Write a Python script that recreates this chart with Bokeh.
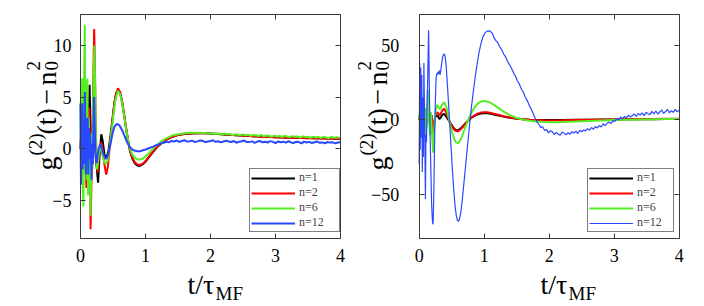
import numpy as np
from bokeh.plotting import figure
from bokeh.models import Label, Legend, LegendItem, LinearAxis, FixedTicker, Range1d
from bokeh.layouts import row
from bokeh.embed import file_html
from bokeh.resources import INLINE

SERIES = ["n=1", "n=2", "n=6", "n=12"]
COLORS = ["#000000", "#ff0000", "#55ee22", "#2a48ff"]
X_TICKS = [0, 1, 2, 3, 4]
LEFT_Y_TICKS = [-5, 0, 5, 10]
RIGHT_Y_TICKS = [-50, 0, 50]

# ---------------- left panel ----------------
L_T1 = [0.00, 0.015, 0.03, 0.045, 0.06, 0.075, 0.09, 0.105, 0.12, 0.14, 0.16, 0.18, 0.20, 0.22, 0.245, 0.27,
        0.295, 0.32, 0.34, 0.37, 0.40, 0.43, 0.46, 0.49, 0.52, 0.55, 0.58, 0.61, 0.64, 0.67, 0.70, 0.73, 0.76,
        0.80, 0.84, 0.88, 0.92, 0.96, 1.00, 1.05, 1.10, 1.15, 1.20, 1.30, 1.40, 1.50, 1.60, 1.70, 1.80, 1.90,
        2.00, 2.20, 2.40, 2.60, 2.80, 3.00, 3.20, 3.40, 3.60, 3.80, 4.00]
L_N1 = [0.0, 2.0, -1.5, 1.0, -1.8, 2.5, -0.5, 3.0, 1.0, 6.2, 0.0, -1.0, 1.5, 0.5, -1.5, -3.3, -0.5, 1.4, 0.8,
        -0.6, -0.9, -0.2, 1.2, 2.8, 4.4, 5.4, 5.7, 5.4, 4.5, 3.3, 2.0, 0.8, -0.2, -1.0, -1.45, -1.65, -1.65,
        -1.5, -1.25, -0.85, -0.45, -0.05, 0.3, 0.8, 1.12, 1.32, 1.43, 1.48, 1.5, 1.49, 1.46, 1.38, 1.3, 1.22,
        1.15, 1.1, 1.06, 1.03, 1.0, 0.98, 0.96]

L_T2 = [0.00, 0.015, 0.03, 0.045, 0.06, 0.075, 0.09, 0.105, 0.12, 0.135, 0.155, 0.175, 0.195, 0.21, 0.22,
        0.235, 0.25, 0.265, 0.28, 0.30, 0.32, 0.34, 0.37, 0.395, 0.42, 0.45, 0.48, 0.51, 0.54, 0.575, 0.61,
        0.64, 0.67, 0.70, 0.73, 0.76, 0.80, 0.84, 0.88, 0.92, 0.96, 1.00, 1.05, 1.10, 1.15, 1.20, 1.30, 1.40,
        1.50, 1.60, 1.70, 1.80, 1.90, 2.00, 2.20, 2.40, 2.60, 2.80, 3.00, 3.20, 3.40, 3.60, 3.80, 4.00]
L_N2 = [0.0, 2.5, -2.0, 3.0, -1.0, 1.5, -3.8, 2.0, 0.5, 4.0, -7.8, -1.0, 6.0, 11.6, 9.0, 2.0, -1.5, -2.3,
        -1.2, 0.2, 0.6, 0.0, -1.6, -2.5, -1.8, 0.2, 2.0, 3.8, 5.1, 5.85, 5.5, 4.6, 3.4, 2.1, 0.9, -0.1, -0.9,
        -1.35, -1.55, -1.55, -1.45, -1.2, -0.8, -0.4, 0.0, 0.3, 0.8, 1.12, 1.32, 1.44, 1.5, 1.52, 1.5, 1.47,
        1.39, 1.3, 1.22, 1.15, 1.1, 1.06, 1.03, 1.0, 0.98, 0.96]

L_T6 = [0.000, 0.008, 0.016, 0.026, 0.036, 0.046, 0.056, 0.066, 0.076, 0.086, 0.096, 0.106, 0.116, 0.128,
        0.14, 0.155, 0.17, 0.185, 0.20, 0.215, 0.225, 0.24, 0.255, 0.27, 0.29, 0.31, 0.33, 0.36, 0.39, 0.42,
        0.45, 0.48, 0.51, 0.54, 0.575, 0.61, 0.64, 0.67, 0.70, 0.73, 0.76, 0.80, 0.84, 0.88, 0.92, 0.96, 1.00,
        1.05, 1.10, 1.15, 1.20, 1.30, 1.40, 1.50, 1.60, 1.70, 1.80, 1.90]
L_N6 = [4.5, -3.0, 3.0, 6.8, -4.0, -5.6, 6.8, 12.0, -2.5, 6.5, -3.0, 6.8, -4.5, 3.0, -1.0, -6.5, 1.5, -2.0,
        7.0, 10.0, 6.0, 0.0, -2.0, -1.2, -0.2, 0.1, -0.4, -1.2, -1.5, -1.1, 0.2, 1.8, 3.5, 4.8, 5.6, 5.3, 4.4,
        3.2, 2.0, 0.9, 0.0, -0.6, -0.9, -1.05, -1.05, -0.95, -0.75, -0.45, -0.1, 0.2, 0.5, 0.95, 1.25, 1.4,
        1.5, 1.55, 1.55, 1.52]
# noisy tail of n=6, sampled evenly from t=1.94 to t=3.98
L_N6_TAIL = [1.50, 1.44, 1.52, 1.41, 1.48, 1.45, 1.36, 1.47, 1.39, 1.42, 1.31, 1.40, 1.36, 1.29, 1.39, 1.30,
             1.35, 1.24, 1.33, 1.30, 1.22, 1.33, 1.20, 1.28, 1.25, 1.16, 1.27, 1.19, 1.23, 1.13, 1.24, 1.18,
             1.12, 1.22, 1.15, 1.19, 1.08, 1.20, 1.12, 1.16, 1.06, 1.17, 1.10, 1.14, 1.05, 1.15, 1.09, 1.04,
             1.14, 1.06, 1.11, 1.05]

L_T12 = [0.000, 0.007, 0.014, 0.021, 0.027, 0.034, 0.042, 0.05, 0.058, 0.067, 0.075, 0.084, 0.093, 0.102,
         0.111, 0.12, 0.13, 0.14, 0.15, 0.16, 0.17, 0.18, 0.19, 0.20, 0.21, 0.22, 0.235, 0.25, 0.265, 0.28,
         0.30, 0.32, 0.34, 0.37, 0.40, 0.43, 0.46, 0.49, 0.52, 0.56, 0.60, 0.64, 0.68, 0.72, 0.76, 0.80, 0.84,
         0.88, 0.92, 0.96]
L_N12 = [4.3, -3.5, 1.0, -1.0, 4.4, -2.0, 2.5, -1.5, 1.0, 5.5, 0.0, -2.5, 3.0, -1.0, 3.0, -2.5, 2.0, -1.0,
         1.5, -0.5, -3.0, 0.5, -1.5, 2.5, 5.0, 2.0, -1.0, -1.4, -0.6, 0.0, 0.4, 0.2, -0.3, -0.8, -1.0, -0.5,
         0.4, 1.4, 2.1, 2.4, 2.25, 1.8, 1.2, 0.6, 0.15, -0.1, -0.2, -0.25, -0.25, -0.15]
# noisy tail of n=12, sampled evenly from t=1.0 to t=4.0
L_N12_TAIL = [-0.08, 0.02, 0.12, 0.20, 0.33, 0.41, 0.52, 0.57, 0.66, 0.62,
              0.75, 0.70, 0.79, 0.66, 0.74, 0.82, 0.69, 0.73, 0.78, 0.64,
              0.71, 0.80, 0.76, 0.63, 0.70, 0.74, 0.81, 0.67, 0.72, 0.61,
              0.69, 0.77, 0.70, 0.65, 0.74, 0.58, 0.68, 0.72, 0.79, 0.64,
              0.66, 0.71, 0.57, 0.69, 0.75, 0.62, 0.67, 0.60, 0.73, 0.66,
              0.54, 0.70, 0.63, 0.68, 0.59, 0.72, 0.61, 0.56, 0.67, 0.64,
              0.52, 0.69, 0.60, 0.66, 0.55, 0.63, 0.70, 0.57, 0.61, 0.53,
              0.65, 0.59, 0.62, 0.51, 0.60, 0.62]

# ---------------- right panel ----------------
R_T12_SMOOTH = [0.00, 0.02, 0.04, 0.06, 0.08, 0.10, 0.12, 0.135, 0.15, 0.17, 0.19, 0.205, 0.215, 0.23, 0.25,
                0.27, 0.29, 0.31, 0.33, 0.36, 0.385, 0.41, 0.44, 0.47, 0.50, 0.53, 0.56, 0.60, 0.64, 0.68,
                0.72, 0.76, 0.80, 0.85, 0.90, 0.95, 1.00, 1.05, 1.10, 1.15, 1.20, 1.30, 1.40, 1.50, 1.60,
                1.70, 1.80, 1.90, 2.00, 2.20, 2.40, 2.60, 2.80, 3.00, 3.20, 3.40, 3.60, 3.80, 4.00]
R_N1 = [0, 4, -4, 6, -3, 5, -2, 8, 2, -3, 3, -4, -8, -2, 2, 3, 2.5, 0.5, 1.5, 3.5, 4.0, 2.5, 0.5, -1.5, -3.5,
        -5.5, -6.8, -7.0, -5.8, -4.0, -2.0, -0.3, 1.2, 2.6, 3.6, 4.2, 4.5, 4.4, 4.1, 3.6, 3.1, 2.1, 1.3, 0.7,
        0.3, 0.05, -0.1, -0.2, -0.2, -0.15, -0.05, 0.05, 0.15, 0.25, 0.3, 0.35, 0.4, 0.45, 0.5]
R_N2 = [0, 6, -6, 8, -5, 6, -3, 10, 3, -4, 3, -5, -10, -3, 3, 5, 4.5, 3, 4, 6.5, 7.4, 5.5, 2, -1.5, -4, -6.2,
        -7.5, -7.6, -6.3, -4.4, -2.3, -0.4, 1.3, 3.0, 4.1, 4.8, 5.1, 5.0, 4.6, 4.1, 3.5, 2.4, 1.5, 0.8, 0.35,
        0.05, -0.2, -0.35, -0.4, -0.35, -0.2, -0.05, 0.1, 0.25, 0.35, 0.45, 0.55, 0.65, 0.7]

R_T6 = [0.00, 0.015, 0.03, 0.045, 0.06, 0.075, 0.09, 0.105, 0.12, 0.135, 0.15, 0.165, 0.18, 0.195, 0.205,
        0.215, 0.23, 0.245, 0.26, 0.28, 0.30, 0.32, 0.35, 0.385, 0.42, 0.45, 0.48, 0.51, 0.54, 0.57, 0.60,
        0.63, 0.66, 0.70, 0.74, 0.78, 0.82, 0.86, 0.90, 0.95, 1.00, 1.05, 1.10, 1.15, 1.20, 1.30, 1.40, 1.50,
        1.60, 1.70, 1.80, 1.90, 2.00, 2.10, 2.20, 2.40, 2.60, 2.80, 3.00, 3.20, 3.40, 3.60, 3.80, 4.00]
R_N6 = [0, 8, -10, 12, -8, 10, -12, 8, -5, 20, 6, -10, 5, -8, -15, -22, -8, 3, 8, 10, 8, 7, 10, 11.8, 8, 2,
        -4, -9, -13, -15.3, -15.6, -14, -11, -6, -1.5, 2.5, 6, 8.8, 10.8, 12.2, 12.5, 12.2, 11.3, 10, 8.5,
        5.5, 3.0, 1.2, 0.1, -0.6, -1.1, -1.4, -1.6, -1.6, -1.5, -1.2, -0.8, -0.4, -0.1, 0.1, 0.25, 0.35,
        0.45, 0.5]

R_T12 = [0.000, 0.008, 0.016, 0.024, 0.032, 0.040, 0.048, 0.056, 0.064, 0.072, 0.080, 0.088, 0.096, 0.104,
         0.112, 0.12, 0.13, 0.138, 0.145, 0.152, 0.16, 0.17, 0.18, 0.19, 0.20, 0.208, 0.215, 0.222, 0.23,
         0.24, 0.25, 0.26, 0.27, 0.28, 0.29, 0.30, 0.31, 0.32, 0.335, 0.35, 0.365, 0.385, 0.40, 0.415, 0.43,
         0.45, 0.47, 0.49, 0.51, 0.53, 0.55, 0.57, 0.59, 0.605, 0.62, 0.64, 0.66, 0.68, 0.70, 0.72, 0.74,
         0.76, 0.78, 0.80, 0.83, 0.86, 0.89, 0.92, 0.95, 0.98, 1.01, 1.04, 1.07, 1.09, 1.11, 1.13]
R_N12 = [-30, 38, -20, 35, -12, 30, -35, 15, -25, 38, 10, -20, -53, -10, -15, 10, 25, 45, 60, 35, 10, -15,
         -35, -55, -65, -70, -68, -55, -35, -5, 15, 28, 31, 30, 32, 31, 33, 30, 34, 39, 43, 44.2, 42, 36, 26,
         12, -3, -18, -33, -46, -57, -64, -67.5, -68, -66.5, -62, -55, -46, -37, -28, -19, -10, -1, 7, 18,
         28, 37, 45, 51, 55.5, 58, 59.2, 59.5, 59.4, 58.5, 57.5]
# noisy descent and tail of n=12, sampled evenly from t=1.15 to t=4.0
R_N12_TAIL = [55.0, 53.0, 51.6, 48.8, 46.9, 44.0, 42.1, 39.0, 36.8, 34.5, 31.6, 29.3, 26.1, 24.0, 20.8,
              18.6, 15.4, 13.0, 10.1, 7.3, 4.6,
              1.5, -1.2, -3.0, -5.1, -4.8, -7.2, -6.6, -8.8, -7.3, -8.1,
              -9.9, -8.4, -9.6, -10.4, -8.2, -9.1, -10.0, -8.7, -9.7, -8.0,
              -8.9, -7.6, -9.2, -7.1, -8.0, -6.8, -7.4, -5.9, -7.0, -5.2,
              -6.3, -4.6, -5.5, -3.9, -4.8, -2.7, -3.9, -2.4, -1.5, -2.6,
              -0.6, -1.1, 0.9, -0.2, 1.9, 0.7, 2.2, 1.4, 3.0, 1.8,
              2.9, 3.8, 2.3, 4.2, 3.1, 4.6, 2.8, 5.0, 4.1, 3.4,
              5.6, 4.0, 5.9, 3.9, 5.2, 6.6, 4.3, 5.5, 6.9, 4.7,
              6.1, 5.0, 7.0, 5.3, 6.4]

FONT = "Liberation Serif"
BOX_COLOR = "#3a3a3a"
FIG_W, FIG_H = 352, 306
LEFT_YR = (-8.7, 13.0)
RIGHT_YR = (-79.5, 70.5)
# plot box (page pixels): left, right, top, bottom
LEFT_BOX = (80.0, 340.0, 14.0, 238.0)
RIGHT_BOX = (418.7, 678.7, 14.0, 238.0)


class Geo:
    def __init__(self, box, fig_x0, yr):
        self.x0, self.x1, self.y0, self.y1 = box
        self.fx = fig_x0
        self.yr = yr
        self.ppx = (self.x1 - self.x0) / 4.0
        self.ppy = (self.y1 - self.y0) / (yr[1] - yr[0])

    def xrange(self):
        return ((self.fx - self.x0) / self.ppx, (self.fx + FIG_W - self.x0) / self.ppx)

    def yrange(self):
        return (self.yr[0] - (FIG_H - self.y1) / self.ppy, self.yr[1] + self.y0 / self.ppy)

    def conv(self, X, Y):
        return (X - self.x0) / self.ppx, self.yr[1] - (Y - self.y0) / self.ppy


def style_axis(ax, show_labels, standoff):
    ax.axis_line_color = BOX_COLOR
    ax.axis_line_width = 1
    ax.major_tick_in = 5
    ax.major_tick_out = 0
    ax.minor_tick_in = 0
    ax.minor_tick_out = 0
    ax.major_tick_line_color = BOX_COLOR
    ax.major_label_text_font = FONT
    ax.major_label_text_font_size = "18px"
    ax.major_label_standoff = standoff
    ax.major_label_text_color = "black" if show_labels else None


def make_fig(geo, yticks, overrides, y_standoff):
    p = figure(width=FIG_W, height=FIG_H, x_range=Range1d(*geo.xrange()), y_range=Range1d(*geo.yrange()),
               output_backend="svg", toolbar_location=None, x_axis_type=None, y_axis_type=None,
               min_border_left=0, min_border_right=0, min_border_top=0, min_border_bottom=0)
    p.grid.visible = False
    p.outline_line_color = None
    p.background_fill_color = "white"
    p.border_fill_color = "white"
    y0, y1 = geo.yr
    bottom = LinearAxis(ticker=FixedTicker(ticks=X_TICKS), fixed_location=y0, bounds=(0, 4))
    top = LinearAxis(ticker=FixedTicker(ticks=X_TICKS), fixed_location=y1, bounds=(0, 4))
    left = LinearAxis(ticker=FixedTicker(ticks=yticks), fixed_location=0, bounds=(y0, y1),
                      major_label_overrides=overrides)
    right = LinearAxis(ticker=FixedTicker(ticks=yticks), fixed_location=4, bounds=(y0, y1))
    style_axis(bottom, True, 10)
    style_axis(left, True, y_standoff)
    style_axis(top, False, 0)
    style_axis(right, False, 0)
    p.add_layout(bottom, "below")
    p.add_layout(left, "left")
    p.add_layout(top, "above")
    p.add_layout(right, "right")
    return p


def add_labels(p, geo, dx_y, dx_x):
    # y label g^(2)(t) - n_0^2, rotated, anchored at page pixels
    pieces = [("g", 28, 46, 170), ("(2)", 19, 35, 155), ("(t)", 28, 46, 134), ("\u2212", 28, 46, 104),
              ("n", 28, 46, 85), ("2", 19, 33, 70), ("0", 19, 51, 70)]
    for txt, fs, X, Y in pieces:
        x, y = geo.conv(X + dx_y, Y)
        p.add_layout(Label(x=x, y=y, text=txt, angle=np.pi / 2, text_font=FONT,
                           text_font_size=f"{fs}px", text_align="left",
                           text_baseline="alphabetic", text_color="black"))
    xpieces = [("t/\u03c4", 28, 187, 284), ("MF", 19, 215, 293)]
    for txt, fs, X, Y in xpieces:
        x, y = geo.conv(X + dx_x, Y)
        p.add_layout(Label(x=x, y=y, text=txt, text_font=FONT, text_font_size=f"{fs}px",
                           text_align="left", text_baseline="alphabetic", text_color="black"))


def add_legend(p, geo, renderers, box_left, box_bottom, label_width):
    items = [LegendItem(label=s, renderers=[r]) for s, r in zip(SERIES, renderers)]
    lg = Legend(items=items, location=(box_left - geo.fx, FIG_H - box_bottom),
                label_text_font=FONT, label_text_font_size="12px", label_text_line_height=1.0,
                glyph_width=44, glyph_height=12, label_height=12, label_width=label_width,
                label_standoff=4, spacing=0, padding=1, margin=0,
                border_line_color="black", border_line_width=1, background_fill_alpha=1.0)
    p.add_layout(lg)


# left figure
g1 = Geo(LEFT_BOX, 0, LEFT_YR)
p1 = make_fig(g1, LEFT_Y_TICKS, {-5: "\u22125"}, 9)
l_t6 = L_T6 + list(np.linspace(1.94, 3.98, len(L_N6_TAIL)))
l_n6 = L_N6 + L_N6_TAIL
l_t12 = L_T12 + list(np.linspace(1.0, 4.0, len(L_N12_TAIL)))
l_n12 = L_N12 + L_N12_TAIL
r1 = p1.line(L_T1, L_N1, line_color=COLORS[0], line_width=2)
r2 = p1.line(L_T2, L_N2, line_color=COLORS[1], line_width=2)
r3 = p1.line(l_t6, l_n6, line_color=COLORS[2], line_width=2)
r4 = p1.line(l_t12, l_n12, line_color=COLORS[3], line_width=2)
add_legend(p1, g1, [r1, r2, r3, r4], 249, 232, 39)
add_labels(p1, g1, 0, 0)

# right figure
g2 = Geo(RIGHT_BOX, 352, RIGHT_YR)
p2 = make_fig(g2, RIGHT_Y_TICKS, {-50: "\u221250"}, 20)
r_t12 = R_T12 + list(np.linspace(1.15, 4.0, len(R_N12_TAIL)))
r_n12 = R_N12 + R_N12_TAIL
q1 = p2.line(R_T12_SMOOTH, R_N1, line_color=COLORS[0], line_width=2)
q2 = p2.line(R_T12_SMOOTH, R_N2, line_color=COLORS[1], line_width=2)
q3 = p2.line(R_T6, R_N6, line_color=COLORS[2], line_width=2)
q4 = p2.line(r_t12, r_n12, line_color=COLORS[3], line_width=1.2)
add_legend(p2, g2, [q1, q2, q3, q4], 587, 232, 35)
add_labels(p2, g2, 331, 353)

layout = row(p1, p2)
open("out.html", "w").write(file_html(layout, INLINE))
